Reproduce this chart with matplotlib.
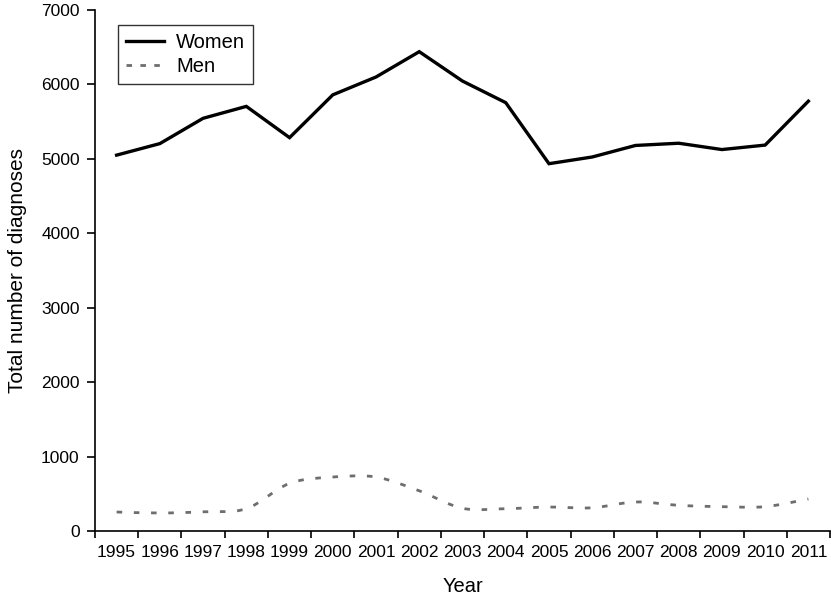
import numpy as np
import matplotlib
matplotlib.use("Agg")
import matplotlib.pyplot as plt
from matplotlib.path import Path
from matplotlib.patches import PathPatch
from matplotlib.lines import Line2D

YEARS = [str(y) for y in range(1995, 2012)]
WOMEN = [5050, 5205, 5545, 5705, 5285, 5860, 6100, 6440, 6045, 5755, 4935, 5025, 5180, 5210, 5125, 5185, 5775]
MEN = [255, 242, 258, 300, 640, 725, 725, 540, 305, 300, 322, 312, 390, 345, 327, 327, 430]

FONT = ["Liberation Sans", "DejaVu Sans"]
MEN_COLOR = "#6e6e6e"
MEN_DASH = (0, (2.0, 4.2))


def smooth_path(xs, ys, tension=1.0 / 6):
    # bezier through the points, like the spreadsheet "smoothed line"
    pts = np.column_stack([xs, ys]).astype(float)
    verts = [pts[0]]
    codes = [Path.MOVETO]
    n = len(pts)
    for i in range(n - 1):
        p0 = pts[i - 1] if i > 0 else pts[i]
        p1 = pts[i]
        p2 = pts[i + 1]
        p3 = pts[i + 2] if i + 2 < n else pts[i + 1]
        c1 = p1 + (p2 - p0) * tension
        c2 = p2 - (p3 - p1) * tension
        verts += [c1, c2, p2]
        codes += [Path.CURVE4] * 3
    return Path(verts, codes)


plt.rcParams["font.family"] = FONT

fig = plt.figure(figsize=(8.31, 6.02), dpi=100)
ax = fig.add_axes([95 / 831, 1 - 531 / 602, 735 / 831, 521 / 602])

x = np.arange(len(YEARS))
ax.plot(x, WOMEN, color="black", linewidth=2.4, solid_joinstyle="miter")
men_patch = PathPatch(smooth_path(x, MEN), facecolor="none", edgecolor=MEN_COLOR,
                      linewidth=2.0, linestyle=MEN_DASH, capstyle="butt")
ax.add_patch(men_patch)

ax.set_xlim(-0.5, len(YEARS) - 0.5)
ax.set_ylim(0, 7000)
ax.set_yticks(range(0, 7001, 1000))
ax.tick_params(axis="y", labelsize=12.5, length=6, width=1.2, direction="out", pad=5)

ax.set_xticks(np.arange(-0.5, len(YEARS), 1.0))
ax.set_xticklabels([])
ax.set_xticks(x, minor=True)
ax.set_xticklabels(YEARS, minor=True)
ax.tick_params(axis="x", which="major", length=5, width=1.2, direction="out")
ax.tick_params(axis="x", which="minor", length=0, labelsize=12.5, pad=10)

for side in ["top", "right"]:
    ax.spines[side].set_visible(False)
for side in ["left", "bottom"]:
    ax.spines[side].set_linewidth(1.2)

ax.set_xlabel("Year", fontsize=14.5, labelpad=12)
ax.set_ylabel("Total number of diagnoses", fontsize=15, labelpad=10)

handles = [
    Line2D([], [], color="black", linewidth=2.4),
    Line2D([], [], color=MEN_COLOR, linewidth=2.0, linestyle=(0, (2.0, 3.0))),
]
leg = ax.legend(handles, ["Women", "Men"], loc="upper left", bbox_to_anchor=(0.031, 0.971),
                borderaxespad=0, fontsize=14.5, frameon=True, fancybox=False, handlelength=1.9,
                borderpad=0.4, labelspacing=0.25, handletextpad=0.6)
leg.get_frame().set_edgecolor("black")
leg.get_frame().set_linewidth(1.0)

fig.savefig("out.png", dpi=100)
